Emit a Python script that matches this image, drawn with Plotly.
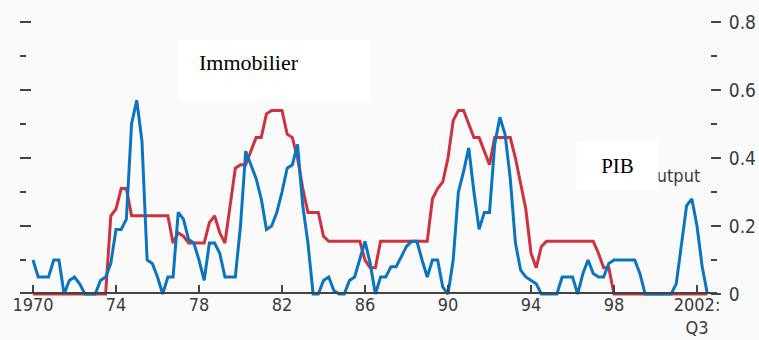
import plotly.graph_objects as go

# Quarterly observations, 1970:Q1 to 2002:Q3
start_year = 1970
n_quarters = 131
quarters = [start_year + q / 4 for q in range(n_quarters)]

# Share of countries in a housing-price boom (Immobilier)
immobilier = [
    0, 0, 0, 0, 0, 0, 0, 0, 0, 0, 0, 0, 0, 0, 0,
    0.23, 0.25, 0.31, 0.31, 0.23, 0.23, 0.23, 0.23, 0.23, 0.23, 0.23, 0.23,
    0.15, 0.18, 0.17, 0.15, 0.15, 0.15, 0.15, 0.21, 0.23, 0.18, 0.15,
    0.26, 0.37, 0.38, 0.38, 0.42, 0.46, 0.46, 0.53, 0.54, 0.54, 0.54,
    0.47, 0.46, 0.40, 0.31, 0.24, 0.24, 0.24, 0.17,
    0.155, 0.155, 0.155, 0.155, 0.155, 0.155, 0.155,
    0.10, 0.077, 0.077,
    0.155, 0.155, 0.155, 0.155, 0.155, 0.155, 0.155, 0.155, 0.155, 0.155,
    0.28, 0.31, 0.33, 0.40, 0.51, 0.54, 0.54, 0.50, 0.46, 0.46, 0.42, 0.38,
    0.46, 0.46, 0.46, 0.46, 0.40, 0.32, 0.25, 0.12, 0.077, 0.14,
    0.155, 0.155, 0.155, 0.155, 0.155, 0.155, 0.155, 0.155, 0.155, 0.155,
    0.12, 0.077, 0.077,
    0, 0, 0, 0, 0, 0, 0, 0, 0, 0, 0, 0, 0, 0, 0, 0, 0, 0, 0,
]

# Share of countries in an output boom (PIB)
pib = [
    0.10, 0.05, 0.05, 0.05, 0.10, 0.10, 0.0, 0.04, 0.05, 0.03,
    0, 0, 0, 0.04, 0.05, 0.09, 0.19, 0.19, 0.22, 0.50,
    0.57, 0.45, 0.10, 0.09, 0.05, 0.0, 0.05, 0.05, 0.24, 0.22,
    0.16, 0.15, 0.10, 0.04, 0.15, 0.15, 0.12, 0.05, 0.05, 0.05,
    0.20, 0.42, 0.38, 0.34, 0.28, 0.19, 0.20, 0.24, 0.30, 0.37,
    0.38, 0.44, 0.26, 0.15, 0.0, 0.0, 0.04, 0.05, 0.01, 0,
    0, 0.04, 0.05, 0.10, 0.155, 0.09, 0.0, 0.05, 0.05, 0.08,
    0.08, 0.11, 0.14, 0.155, 0.155, 0.10, 0.05, 0.10, 0.10, 0.02,
    0.0, 0.10, 0.30, 0.36, 0.43, 0.30, 0.19, 0.24, 0.24, 0.44,
    0.52, 0.47, 0.34, 0.15, 0.07, 0.05, 0.04, 0.03, 0, 0,
    0, 0, 0.05, 0.05, 0.05, 0.0, 0.06, 0.10, 0.06, 0.05,
    0.05, 0.09, 0.10, 0.10, 0.10, 0.10, 0.10, 0.06, 0, 0,
    0, 0, 0, 0, 0.03, 0.15, 0.26, 0.28, 0.20, 0.08,
    0,
]

x_tickvals = [1970, 1974, 1978, 1982, 1986, 1990, 1994, 1998, 2002]
x_ticktext = ["1970", "74", "78", "82", "86", "90", "94", "98", "2002:<br>Q3"]
y_tickvals = [0, 0.2, 0.4, 0.6, 0.8]
y_ticktext = ["0", "0.2", "0.4", "0.6", "0.8"]
y_minorvals = [0.1, 0.3, 0.5, 0.7]

RED = "#cc333f"
BLUE = "#0a74c0"
AXIS = "#444444"
NARROW = "DejaVu Sans Condensed, Liberation Sans Narrow, Arial Narrow, Liberation Sans"
LABEL_FONT = dict(family=NARROW, size=19, color="#3a3a3a")
X_LABEL_FONT = dict(family=NARROW, size=18, color="#3a3a3a")

x_range = [1969.3735, 2002.6265]
y_range = [-0.0088, 0.8353]

fig = go.Figure()
fig.add_trace(go.Scatter(x=quarters, y=immobilier, mode="lines",
                         line=dict(color=RED, width=3), yaxis="y",
                         showlegend=False, hoverinfo="skip"))
fig.add_trace(go.Scatter(x=quarters, y=pib, mode="lines",
                         line=dict(color=BLUE, width=3), yaxis="y2",
                         showlegend=False, hoverinfo="skip"))

fig.update_layout(
    width=759, height=340,
    margin=dict(l=20, r=49, t=10, b=43, autoexpand=False),
    showlegend=False,
    paper_bgcolor="#fafafa", plot_bgcolor="#fafafa",
    xaxis=dict(range=x_range, tickvals=x_tickvals, ticktext=x_ticktext,
               ticks="inside", ticklen=8, tickwidth=2, tickcolor=AXIS,
               showgrid=False, zeroline=False, showline=False,
               anchor="free", position=0.0139, automargin=False,
               tickfont=X_LABEL_FONT, ticklabelstandoff=-1),
    yaxis=dict(range=y_range, tickvals=y_tickvals[1:], showticklabels=False,
               ticks="inside", ticklen=11, tickwidth=2, tickcolor=AXIS,
               minor=dict(tickvals=y_minorvals, ticks="inside", ticklen=6,
                          tickwidth=2, tickcolor=AXIS),
               showgrid=False, zeroline=False, showline=False, automargin=False),
    yaxis2=dict(range=y_range, overlaying="y", side="right",
                tickvals=y_tickvals, ticktext=y_ticktext,
                ticks="outside", ticklen=10, tickwidth=2, tickcolor=AXIS,
                minor=dict(tickvals=y_minorvals, ticks="outside", ticklen=6,
                           tickwidth=2, tickcolor=AXIS),
                showgrid=False, zeroline=False, showline=False, automargin=False,
                tickfont=LABEL_FONT, ticklabelstandoff=4),
)

# Baseline running under the series and out past the right-hand ticks
fig.add_shape(type="line", xref="paper", yref="paper",
              x0=0, x1=1.0101, y0=0.0139, y1=0.0139,
              line=dict(color=AXIS, width=2), layer="above")

# White label box behind "Immobilier"
fig.add_shape(type="rect", xref="paper", yref="paper",
              x0=0.229, x1=0.507, y0=0.686, y1=0.895,
              line=dict(width=0), fillcolor="#ffffff", layer="below")

fig.add_annotation(text="Output", xref="paper", yref="paper",
                   x=0.988, y=0.425, xanchor="right", yanchor="middle",
                   showarrow=False,
                   font=dict(family=NARROW, size=18, color="#3a3a3a"))
fig.add_annotation(text="PIB", xref="paper", yref="paper",
                   x=0.866, y=0.4564, xanchor="center", yanchor="middle",
                   showarrow=False, bgcolor="#ffffff",
                   width=79, height=46,
                   font=dict(family="Liberation Serif, Times New Roman, serif",
                             size=21, color="#000000"))
fig.add_annotation(text="Immobilier", xref="paper", yref="paper",
                   x=0.3312, y=0.8188, xanchor="center", yanchor="middle",
                   showarrow=False,
                   font=dict(family="Liberation Serif, Times New Roman, serif",
                             size=22, color="#000000"))

fig.write_html("out.html")
